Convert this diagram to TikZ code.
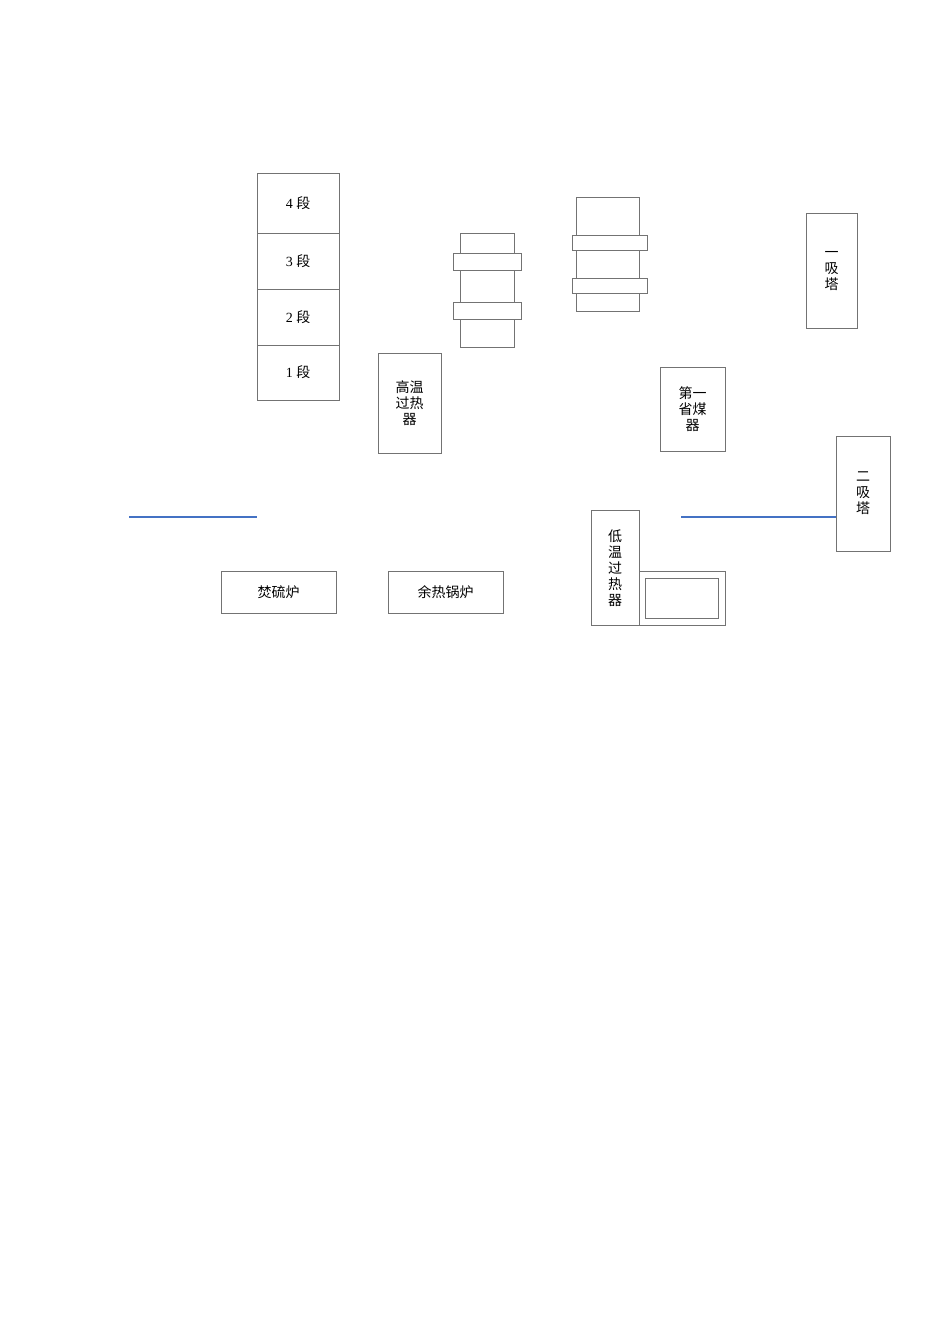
\documentclass[tikz,border=0pt]{standalone}
\usepackage{fontspec}
\setmainfont{Liberation Serif}
\newfontfamily\cjk{Noto Sans CJK SC}
\begin{document}
\begin{tikzpicture}[x=1pt,y=-1pt,
  bx/.style={draw=black!55,line width=0.6pt,fill=white},
  tx/.style={font=\fontsize{14}{16}\selectfont\cjk,align=center,inner sep=0},
  bl/.style={draw={rgb,255:red,68;green,114;blue,196},line width=1.8pt}]
\useasboundingbox (0,0) rectangle (950,1344);
% stack
\draw[bx] (257,173) rectangle (339,233); \node[tx] (s4) at (298,203) {\rmfamily 4 \cjk 段};
\draw[bx] (257,233) rectangle (339,289); \node[tx] (s3) at (298,261) {\rmfamily 3 \cjk 段};
\draw[bx] (257,289) rectangle (339,345); \node[tx] (s2) at (298,317) {\rmfamily 2 \cjk 段};
\draw[bx] (257,345) rectangle (339,400); \node[tx] (s1) at (298,372) {\rmfamily 1 \cjk 段};
% high temp superheater
\draw[bx] (378,353) rectangle (441,453); \node[tx] (gw) at (409.5,403) {高温\\过热\\器};
% cylinder 1
\draw[bx] (460,233) rectangle (514,347);
\draw[bx] (453,253) rectangle (521,270);
\draw[bx] (453,302) rectangle (521,319);
% cylinder 2
\draw[bx] (576,197) rectangle (639,311);
\draw[bx] (572,235) rectangle (647,250);
\draw[bx] (572,278) rectangle (647,293);
% towers
\draw[bx] (806,213) rectangle (857,328); \node[tx] (t1) at (831.5,271) {一\\吸\\塔};
\draw[bx] (660,367) rectangle (725,451); \node[tx] (sm) at (692.5,409) {第一\\省煤\\器};
\draw[bx] (836,436) rectangle (890,551); \node[tx] (t2) at (863,493) {二\\吸\\塔};
% blue lines
\coordinate (b1) at (129,517); \coordinate (b2) at (257,517);
\coordinate (b3) at (681,517); \coordinate (b4) at (836,517);
\draw[bl] (b1) -- (b2);
\draw[bl] (b3) -- (b4);
% bottom
\draw[bx] (221,571) rectangle (336,613); \node[tx] (fl) at (278.5,592) {焚硫炉};
\draw[bx] (388,571) rectangle (503,613); \node[tx] (yr) at (445.5,592) {余热锅炉};
\draw[bx] (591,510) rectangle (639,625); \node[tx] (dw) at (615,568) {低\\温\\过\\热\\器};
\draw[bx] (639,571) rectangle (725,625);
\draw[bx] (645,578) rectangle (718,618);
\end{tikzpicture}
\end{document}
